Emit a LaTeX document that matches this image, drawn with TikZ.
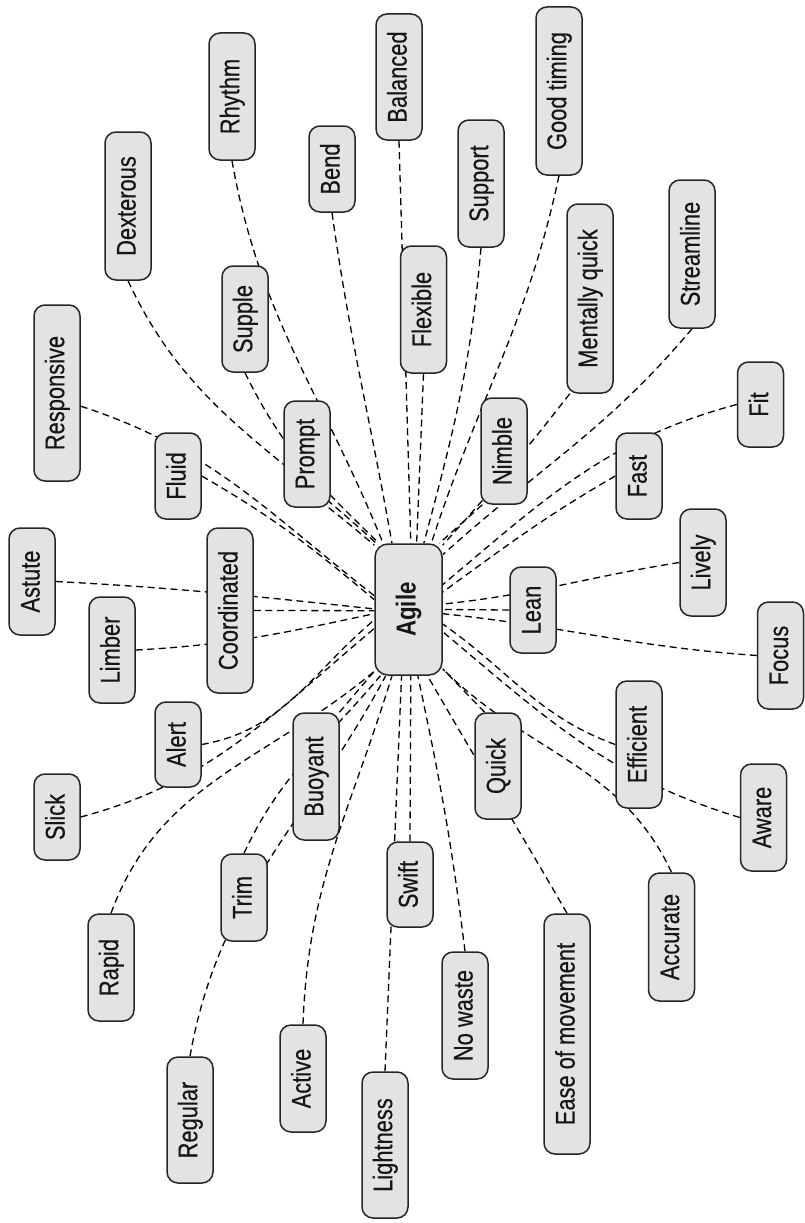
\documentclass[tikz,border=0pt]{standalone}
\usepackage{graphicx}
\usepackage{fontspec}
\setmainfont{Liberation Sans}[FakeStretch=0.81, UprightFeatures={FakeBold=0.4}]
\usetikzlibrary{backgrounds}
\definecolor{boxfill}{HTML}{E3E3E3}
\definecolor{boxline}{HTML}{262626}
\definecolor{inkcol}{HTML}{161616}
\newcommand\kwtext[1]{\rotatebox{90}{\rule[-4.8pt]{0pt}{24.8pt}#1}}
\begin{document}
\begin{tikzpicture}[x=1pt,y=1pt,
  kw/.style={draw=boxline, fill=boxfill, line width=1.5pt, rounded corners=11pt,
    minimum width=46pt, inner sep=0pt, text=inkcol, font=\fontsize{27}{32}\selectfont},
  link/.style={draw=black, line width=1.3pt, dash pattern=on 7pt off 4.5pt},
]
\useasboundingbox (0,0) rectangle (804,-1223);

% centre
\node[kw, minimum width=67pt, minimum height=131pt, rounded corners=13pt,
      font=\fontsize{27.5}{32}\selectfont\bfseries] (agile) at (408.5,-609.5) {\kwtext{Agile}};

% keywords
\node[kw, minimum height=127pt] (rhythm) at (232,-96.5) {\kwtext{Rhythm}};
\node[kw, minimum height=148pt] (dex) at (128,-206) {\kwtext{Dexterous}};
\node[kw, minimum height=86pt] (bend) at (332,-169) {\kwtext{Bend}};
\node[kw, minimum height=106pt] (supple) at (245,-319) {\kwtext{Supple}};
\node[kw, minimum height=126pt] (balanced) at (399,-77) {\kwtext{Balanced}};
\node[kw, minimum height=127pt] (support) at (481,-183.5) {\kwtext{Support}};
\node[kw, minimum height=168pt] (goodtiming) at (559,-91) {\kwtext{Good timing}};
\node[kw, minimum height=127pt] (flexible) at (423.5,-309.5) {\kwtext{Flexible}};
\node[kw, minimum height=189pt] (mentally) at (590,-298.5) {\kwtext{Mentally quick}};
\node[kw, minimum height=148pt] (streamline) at (692,-254) {\kwtext{Streamline}};
\node[kw, minimum height=85pt] (fit) at (760.5,-404.5) {\kwtext{Fit}};
\node[kw, minimum height=176pt] (responsive) at (57,-393) {\kwtext{Responsive}};
\node[kw, minimum height=86pt] (fluid) at (178,-476) {\kwtext{Fluid}};
\node[kw, minimum height=106pt] (prompt) at (307,-454) {\kwtext{Prompt}};
\node[kw, minimum height=107pt] (astute) at (32,-581.5) {\kwtext{Astute}};
\node[kw, minimum height=106pt] (limber) at (112,-650) {\kwtext{Limber}};
\node[kw, minimum height=165pt] (coordinated) at (230,-610.5) {\kwtext{Coordinated}};
\node[kw, minimum height=85pt] (alert) at (178,-744.5) {\kwtext{Alert}};
\node[kw, minimum height=127pt] (buoyant) at (316,-776.5) {\kwtext{Buoyant}};
\node[kw, minimum height=86pt] (slick) at (57,-817) {\kwtext{Slick}};
\node[kw, minimum height=106pt] (nimble) at (504,-451) {\kwtext{Nimble}};
\node[kw, minimum height=86pt] (fast) at (639,-476) {\kwtext{Fast}};
\node[kw, minimum height=107pt] (lively) at (703,-562.5) {\kwtext{Lively}};
\node[kw, minimum height=86pt] (lean) at (533,-610) {\kwtext{Lean}};
\node[kw, minimum height=107pt] (focus) at (780.5,-655.5) {\kwtext{Focus}};
\node[kw, minimum height=106pt] (quick) at (498,-766) {\kwtext{Quick}};
\node[kw, minimum height=127pt] (efficient) at (639,-744.5) {\kwtext{Efficient}};
\node[kw, minimum height=107pt] (aware) at (763.5,-817.5) {\kwtext{Aware}};
\node[kw, minimum height=87pt] (trim) at (244,-897.5) {\kwtext{Trim}};
\node[kw, minimum height=107pt] (rapid) at (111,-967.5) {\kwtext{Rapid}};
\node[kw, minimum height=126pt] (regular) at (190,-1120) {\kwtext{Regular}};
\node[kw, minimum height=107pt] (active) at (303,-1078.5) {\kwtext{Active}};
\node[kw, minimum height=146pt] (lightness) at (385,-1145) {\kwtext{Lightness}};
\node[kw, minimum height=85pt] (swift) at (410,-884.5) {\kwtext{Swift}};
\node[kw, minimum height=127pt] (nowaste) at (465,-1015.5) {\kwtext{No waste}};
\node[kw, minimum height=240pt] (ease) at (567,-1034) {\kwtext{Ease of movement}};
\node[kw, minimum height=128pt] (accurate) at (671.5,-937) {\kwtext{Accurate}};

\begin{scope}[on background layer]
\draw[link] (dex.south) to[out=-65,in=137] (agile.116);
\draw[link] (supple.south) to[out=-64,in=136] (agile.114);
\draw[link] (rhythm.south) to[out=-80,in=112] (agile.111);
\draw[link] (prompt.-68) to[out=-38,in=140] (agile.118.6);
\draw[link] (bend.south) to[out=-82,in=100] (agile.104);
\draw[link] (balanced.south) -- (agile.88.7);
\draw[link] (flexible.south) -- (agile.83.5);
\draw[link] (support.south) to[out=-95,in=75] (agile.77.5);
\draw[link] (goodtiming.south) to[out=-102,in=72] (agile.71.8);
\draw[link] (nimble.248) -- (agile.65.8);
\draw[link] (mentally.258) to[out=232,in=48] (agile.62);
\draw[link] (streamline.south) to[out=230,in=42] (agile.58.4);
\draw[link] (fit.west) to[out=195,in=40] (agile.36);
\draw[link] (fast.west) to[out=210,in=36] (agile.27.6);
\draw[link] (lively.west) to[out=189,in=6] (agile.9.3);
\draw[link] (lean.west) -- (agile.east);
\draw[link] (focus.west) to[out=176,in=-6] (agile.-7.6);
\draw[link] (efficient.west) to[out=160,in=-35] (agile.-23.4);
\draw[link] (aware.west) to[out=163,in=-40] (agile.-33.9);
\draw[link] (accurate.north) to[out=115,in=-45] (agile.-60);
\draw[link] (quick.104) -- (agile.-60);
\draw[link] (ease.north) to[out=120,in=-60] (agile.-74.2);
\draw[link] (nowaste.north) to[out=97,in=-78] (agile.-82.6);
\draw[link] (swift.north) -- (agile.-88.7);
\draw[link] (lightness.north) -- (agile.-96.5);
\draw[link] (active.north) to[out=88,in=-107] (agile.-104);
\draw[link] (regular.north) to[out=80,in=242] (agile.-109.7);
\draw[link] (trim.north) to[out=65,in=230] (agile.-113.5);
\draw[link] (buoyant.70) -- (agile.241);
\draw[link] (rapid.north) to[out=70,in=220] (agile.241);
\draw[link] (slick.east) to[out=15,in=220] (agile.209);
\draw[link] (alert.east) to[out=10,in=220] (agile.197.4);
\draw[link] (limber.east) to[out=3,in=192] (agile.187.7);
\draw[link] (coordinated.east) -- (agile.182.6);
\draw[link] (astute.east) to[out=-3,in=174] (agile.179);
\draw[link] (fluid.east) to[out=-30,in=140] (agile.164);
\draw[link] (responsive.-29) to[out=-18,in=142] (agile.158);
\end{scope}
\end{tikzpicture}
\end{document}
